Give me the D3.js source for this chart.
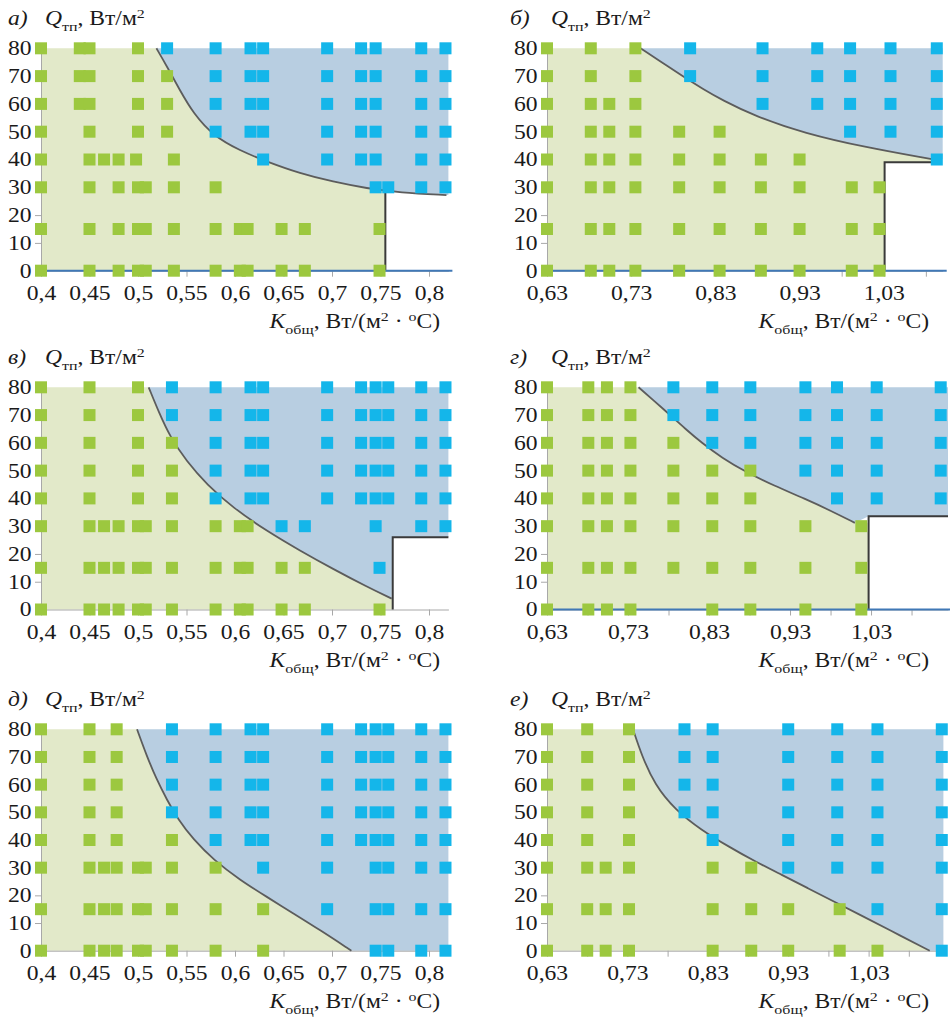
<!DOCTYPE html>
<html>
<head>
<meta charset="utf-8">
<script src="https://cdn.jsdelivr.net/npm/d3@7"></script>
<style>
  body { margin: 0; background: #fff; }
  svg text { font-family: "Liberation Serif", "Times New Roman", serif; fill: #1a1a1a; }
</style>
</head>
<body>
<svg id="chart" width="950" height="1019"></svg>
<script>
// ---- axis values ----
var qTicks = [0, 10, 20, 30, 40, 50, 60, 70, 80];
var kTicksLeft = [0.4, 0.45, 0.5, 0.55, 0.6, 0.65, 0.7, 0.75, 0.8];
var kLabelsLeft = ["0,4", "0,45", "0,5", "0,55", "0,6", "0,65", "0,7", "0,75", "0,8"];
var kTicksRight = [0.63, 0.68, 0.73, 0.78, 0.83, 0.88, 0.93, 0.98, 1.03, 1.08];
var kLabelsRight = ["0,63", "", "0,73", "", "0,83", "", "0,93", "", "1,03", ""];

var domainA = [0.4, 0.82], domainB = [0.63, 1.10], domainC = [0.4, 0.82];
var domainD = [0.63, 1.125], domainE = [0.4, 0.82], domainF = [0.63, 1.123];

// ---- а) ----  rows: [Q, [K...]]
var greenA = [
  [80, [0.40, 0.44, 0.45, 0.50]],
  [70, [0.40, 0.44, 0.45, 0.50, 0.53]],
  [60, [0.40, 0.44, 0.45, 0.50, 0.53]],
  [50, [0.40, 0.45, 0.50, 0.53]],
  [40, [0.40, 0.45, 0.465, 0.48, 0.498, 0.537]],
  [30, [0.40, 0.45, 0.48, 0.50, 0.508, 0.537, 0.58]],
  [15, [0.40, 0.45, 0.48, 0.50, 0.508, 0.537, 0.58, 0.605, 0.613, 0.648, 0.672, 0.749]],
  [0,  [0.40, 0.45, 0.48, 0.50, 0.508, 0.537, 0.58, 0.605, 0.613, 0.648, 0.672, 0.749]]
];
var blueA = [
  [80, [0.53, 0.58, 0.616, 0.629, 0.695, 0.73, 0.745, 0.792, 0.817]],
  [70, [0.58, 0.616, 0.629, 0.695, 0.73, 0.745, 0.792, 0.817]],
  [60, [0.58, 0.616, 0.629, 0.695, 0.73, 0.745, 0.792, 0.817]],
  [50, [0.58, 0.616, 0.629, 0.695, 0.73, 0.745, 0.792, 0.817]],
  [40, [0.629, 0.695, 0.73, 0.745, 0.792, 0.817]],
  [30, [0.745, 0.758, 0.792, 0.817]]
];
var curveA = [[0.519, 80], [0.530, 73.4], [0.543, 65], [0.557, 56.6], [0.578, 48.4], [0.605, 43.2],
  [0.633, 39.2], [0.667, 35], [0.701, 32], [0.736, 29.6], [0.77, 28.1], [0.818, 27.2]];
var stepA = [[0.755, 0], [0.755, 28.6]];
var greenEdgeA = [[0.755, 28.6], [0.755, 0]];
var blueEdgeA = [[0.82, 27.2]];

// ---- б) ----
var greenB = [
  [80, [0.63, 0.682, 0.735]],
  [70, [0.63, 0.682, 0.735]],
  [60, [0.63, 0.682, 0.704, 0.735]],
  [50, [0.63, 0.682, 0.704, 0.735, 0.787, 0.835]],
  [40, [0.63, 0.682, 0.704, 0.735, 0.787, 0.835, 0.884, 0.93]],
  [30, [0.63, 0.682, 0.704, 0.735, 0.787, 0.835, 0.884, 0.93, 0.992, 1.025]],
  [15, [0.63, 0.682, 0.704, 0.735, 0.787, 0.835, 0.884, 0.93, 0.992, 1.025]],
  [0,  [0.63, 0.682, 0.704, 0.735, 0.787, 0.835, 0.884, 0.93, 0.992, 1.025]]
];
var blueB = [
  [80, [0.80, 0.886, 0.951, 0.99, 1.038, 1.093]],
  [70, [0.80, 0.886, 0.951, 0.99, 1.038, 1.093]],
  [60, [0.886, 0.951, 0.99, 1.038, 1.093]],
  [50, [0.99, 1.038, 1.093]],
  [40, [1.093]]
];
var curveB = [[0.741, 80], [0.766, 75], [0.792, 69.8], [0.815, 65.4], [0.838, 61.4], [0.877, 55.6],
  [0.936, 49.4], [1.008, 44.4], [1.087, 40.1]];
var stepB = [[1.031, 0], [1.031, 39], [1.087, 39]];
var greenEdgeB = [[1.087, 39], [1.031, 39], [1.031, 0]];
var blueEdgeB = [[1.10, 40.1]];

// ---- в) ----
var greenC = [
  [80, [0.40, 0.45, 0.50]],
  [70, [0.40, 0.45, 0.50]],
  [60, [0.40, 0.45, 0.50, 0.535]],
  [50, [0.40, 0.45, 0.50, 0.535]],
  [40, [0.40, 0.45, 0.50, 0.535]],
  [30, [0.40, 0.45, 0.465, 0.48, 0.50, 0.508, 0.535, 0.58, 0.605, 0.613]],
  [15, [0.40, 0.45, 0.465, 0.48, 0.50, 0.508, 0.535, 0.58, 0.605, 0.613, 0.648, 0.672]],
  [0,  [0.40, 0.45, 0.465, 0.48, 0.50, 0.508, 0.535, 0.58, 0.605, 0.613, 0.648, 0.672, 0.749]]
];
var blueC = [
  [80, [0.535, 0.58, 0.616, 0.629, 0.695, 0.73, 0.745, 0.758, 0.792, 0.817]],
  [70, [0.535, 0.58, 0.616, 0.629, 0.695, 0.73, 0.745, 0.758, 0.792, 0.817]],
  [60, [0.58, 0.616, 0.629, 0.695, 0.73, 0.745, 0.758, 0.792, 0.817]],
  [50, [0.58, 0.616, 0.629, 0.695, 0.73, 0.745, 0.758, 0.792, 0.817]],
  [40, [0.58, 0.616, 0.629, 0.695, 0.73, 0.745, 0.758, 0.792, 0.817]],
  [30, [0.648, 0.672, 0.745, 0.792, 0.817]],
  [15, [0.749]]
];
var curveC = [[0.511, 80], [0.522, 70.6], [0.533, 62.2], [0.55, 53.4], [0.571, 45], [0.598, 36.6],
  [0.633, 28.2], [0.667, 21.2], [0.701, 14.6], [0.736, 8.2], [0.7615, 3.9]];
var stepC = [[0.7626, 0], [0.7626, 26], [0.82, 26]];
var greenEdgeC = [[0.7626, 3.9], [0.7626, 0]];
var blueEdgeC = [[0.7626, 26], [0.82, 26]];

// ---- г) ----
var greenD = [
  [80, [0.63, 0.681, 0.704, 0.733]],
  [70, [0.63, 0.681, 0.704, 0.733]],
  [60, [0.63, 0.681, 0.704, 0.733, 0.786]],
  [50, [0.63, 0.681, 0.704, 0.733, 0.786, 0.834, 0.881]],
  [40, [0.63, 0.681, 0.704, 0.733, 0.786, 0.834, 0.881]],
  [30, [0.63, 0.681, 0.704, 0.733, 0.786, 0.834, 0.881, 0.949, 1.018]],
  [15, [0.63, 0.681, 0.704, 0.733, 0.786, 0.834, 0.881, 0.949, 1.018]],
  [0,  [0.63, 0.681, 0.704, 0.733, 0.834, 0.881, 0.949, 1.018]]
];
var blueD = [
  [80, [0.786, 0.834, 0.881, 0.949, 0.988, 1.037, 1.116]],
  [70, [0.786, 0.834, 0.881, 0.949, 0.988, 1.037, 1.116]],
  [60, [0.834, 0.881, 0.949, 0.988, 1.037, 1.116]],
  [50, [0.949, 0.988, 1.037, 1.116]],
  [40, [0.988, 1.037, 1.116]]
];
var curveD = [[0.743, 80], [0.762, 75.2], [0.782, 70], [0.801, 65], [0.821, 60], [0.846, 54.6],
  [0.875, 49.6], [0.91, 44.6], [0.949, 39.8], [0.98, 35.6], [1.01, 31.2]];
var stepD = [[1.027, 0], [1.027, 33.6], [1.125, 33.6]];
var greenEdgeD = [[1.027, 31.2], [1.027, 0]];
var blueEdgeD = [[1.027, 33.6], [1.125, 33.6]];

// ---- д) ----
var greenE = [
  [80, [0.40, 0.45, 0.478]],
  [70, [0.40, 0.45, 0.478]],
  [60, [0.40, 0.45, 0.478]],
  [50, [0.40, 0.45, 0.478]],
  [40, [0.40, 0.45, 0.478, 0.535]],
  [30, [0.40, 0.45, 0.465, 0.478, 0.50, 0.508, 0.535, 0.58]],
  [15, [0.40, 0.45, 0.465, 0.478, 0.50, 0.508, 0.535, 0.58, 0.629]],
  [0,  [0.40, 0.45, 0.465, 0.478, 0.50, 0.508, 0.535, 0.58, 0.629]]
];
var blueE = [
  [80, [0.535, 0.58, 0.616, 0.629, 0.695, 0.73, 0.745, 0.758, 0.792, 0.817]],
  [70, [0.535, 0.58, 0.616, 0.629, 0.695, 0.73, 0.745, 0.758, 0.792, 0.817]],
  [60, [0.535, 0.58, 0.616, 0.629, 0.695, 0.73, 0.745, 0.758, 0.792, 0.817]],
  [50, [0.535, 0.58, 0.616, 0.629, 0.695, 0.73, 0.745, 0.758, 0.792, 0.817]],
  [40, [0.58, 0.616, 0.629, 0.695, 0.73, 0.745, 0.758, 0.792, 0.817]],
  [30, [0.629, 0.695, 0.745, 0.758, 0.792, 0.817]],
  [15, [0.695, 0.745, 0.758, 0.792, 0.817]],
  [0,  [0.745, 0.758, 0.792, 0.817]]
];
var curveE = [[0.499, 80], [0.509, 70.4], [0.519, 62], [0.53, 54.4], [0.541, 47.6], [0.557, 40.2],
  [0.578, 32.8], [0.605, 25.6], [0.633, 19.4], [0.66, 13.5], [0.688, 7.4], [0.72, 0]];
var greenEdgeE = [];
var blueEdgeE = [[0.82, 0]];

// ---- е) ----
var greenF = [
  [80, [0.63, 0.68, 0.732]],
  [70, [0.63, 0.68, 0.732]],
  [60, [0.63, 0.68, 0.732]],
  [50, [0.63, 0.68, 0.732]],
  [40, [0.63, 0.68, 0.732]],
  [30, [0.63, 0.68, 0.703, 0.732, 0.836, 0.884]],
  [15, [0.63, 0.68, 0.703, 0.732, 0.836, 0.884, 0.93, 0.994]],
  [0,  [0.63, 0.68, 0.703, 0.732, 0.836, 0.884, 0.93, 0.994, 1.041]]
];
var blueF = [
  [80, [0.801, 0.836, 0.93, 0.991, 1.041, 1.121]],
  [70, [0.801, 0.836, 0.93, 0.991, 1.041, 1.121]],
  [60, [0.801, 0.836, 0.93, 0.991, 1.041, 1.121]],
  [50, [0.801, 0.836, 0.93, 0.991, 1.041, 1.121]],
  [40, [0.836, 0.93, 0.991, 1.041, 1.121]],
  [30, [0.93, 0.991, 1.041, 1.121]],
  [15, [1.041, 1.121]],
  [0,  [1.121]]
];
var curveF = [[0.737, 80], [0.748, 70.4], [0.764, 60], [0.789, 51], [0.822, 43.6], [0.856, 37.6],
  [0.889, 32.2], [0.922, 27.4], [0.955, 22.5], [0.988, 17.6], [1.021, 12.7], [1.055, 7.6], [1.106, 0]];
var greenEdgeF = [];
var blueEdgeF = [[1.123, 0]];

// ---- layout ----
var panels = [
  {tag: "а)", left: true,  x0: 41,  x1: 448.4, yTop: 48.3,  yBot: 270.7, domain: domainA,
   green: greenA, blue: blueA, curve: curveA, step: stepA, gEdge: greenEdgeA, bEdge: blueEdgeA, zero: true},
  {tag: "б)", left: false, x0: 547, x1: 942.7, yTop: 48.3,  yBot: 270.7, domain: domainB,
   green: greenB, blue: blueB, curve: curveB, step: stepB, gEdge: greenEdgeB, bEdge: blueEdgeB, zero: true},
  {tag: "в)", left: true,  x0: 41,  x1: 448.4, yTop: 387.3, yBot: 609.5, domain: domainC,
   green: greenC, blue: blueC, curve: curveC, step: stepC, gEdge: greenEdgeC, bEdge: blueEdgeC, zero: false},
  {tag: "г)", left: false, x0: 547, x1: 948,   yTop: 387.3, yBot: 609.5, domain: domainD,
   green: greenD, blue: blueD, curve: curveD, step: stepD, gEdge: greenEdgeD, bEdge: blueEdgeD, zero: true},
  {tag: "д)", left: true,  x0: 41,  x1: 448.4, yTop: 729.3, yBot: 950.7, domain: domainE,
   green: greenE, blue: blueE, curve: curveE, step: null, gEdge: greenEdgeE, bEdge: blueEdgeE, zero: false},
  {tag: "е)", left: false, x0: 547, x1: 943.4, yTop: 729.3, yBot: 950.7, domain: domainF,
   green: greenF, blue: blueF, curve: curveF, step: null, gEdge: greenEdgeF, bEdge: blueEdgeF, zero: false}
];

var col = {
  greenFill: "#e2e9c9", blueFill: "#b8cee1",
  greenMark: "#9cc83f", blueMark: "#14b6ea",
  curve: "#5c5c5c", step: "#3a3a3a", zero: "#4078b6", axis: "#a8a8a8"
};
var FS = 20, SUB = 13.5, SX = 1.18, M = 12;

var svg = d3.select("#chart");

function flat(rows) {
  var out = [];
  rows.forEach(function(r) { r[1].forEach(function(k) { out.push({k: k, q: r[0]}); }); });
  return out;
}

panels.forEach(function(p) {
  var x = d3.scaleLinear().domain(p.domain).range([p.x0, p.x1]);
  var y = d3.scaleLinear().domain([0, 80]).range([p.yBot, p.yTop]);
  var g = svg.append("g");
  var kMin = p.domain[0], kMax = p.domain[1];

  var smooth = d3.line().x(function(d) { return x(d[0]); }).y(function(d) { return y(d[1]); })
    .curve(d3.curveBasis);
  var straight = d3.line().x(function(d) { return x(d[0]); }).y(function(d) { return y(d[1]); });
  var cPath = smooth(p.curve);
  function tail(pts) {
    return pts.map(function(d) { return "L" + x(d[0]) + "," + y(d[1]); }).join("");
  }

  // green (safe) area
  g.append("path")
    .attr("d", "M" + x(kMin) + "," + y(0) + "L" + x(kMin) + "," + y(80) +
      cPath.replace(/^M/, "L") + tail(p.gEdge) + "Z")
    .attr("fill", col.greenFill);

  // blue area
  g.append("path")
    .attr("d", cPath + tail(p.bEdge) + tail([[kMax, 80]]) + "Z")
    .attr("fill", col.blueFill);

  // axes
  var xTicks = p.left ? kTicksLeft : kTicksRight;
  var xLabels = p.left ? kLabelsLeft : kLabelsRight;
  var xAxis = g.append("g").attr("transform", "translate(0," + p.yBot + ")")
    .call(d3.axisBottom(x).tickValues(xTicks.filter(function(v) { return v <= kMax; }))
      .tickFormat(function(d, i) { return xLabels[i]; })
      .tickSizeInner(6).tickSizeOuter(0).tickPadding(9));
  var yAxis = g.append("g").attr("transform", "translate(" + p.x0 + ",0)")
    .call(d3.axisLeft(y).tickValues(qTicks).tickSizeInner(6).tickSizeOuter(0).tickPadding(2));
  [xAxis, yAxis].forEach(function(a) {
    a.attr("font-family", null).attr("font-size", FS);
    a.select(".domain").attr("stroke", col.axis);
    a.selectAll(".tick line").attr("stroke", col.axis);
    a.selectAll(".tick text").attr("fill", "#1a1a1a").attr("transform", "scale(" + SX + ",1)");
  });

  // boundary curve
  g.append("path").attr("d", cPath).attr("fill", "none")
    .attr("stroke", col.curve).attr("stroke-width", 1.8);

  // step line
  if (p.step) {
    g.append("path").attr("d", straight(p.step)).attr("fill", "none")
      .attr("stroke", col.step).attr("stroke-width", 2);
  }

  // zero line
  if (p.zero) {
    g.append("line").attr("x1", x(kMin)).attr("x2", x(kMax) + 4)
      .attr("y1", y(0)).attr("y2", y(0))
      .attr("stroke", col.zero).attr("stroke-width", 2);
  }

  // markers
  [[p.green, col.greenMark], [p.blue, col.blueMark]].forEach(function(s) {
    g.selectAll(null).data(flat(s[0])).enter().append("rect")
      .attr("x", function(d) { return x(d.k) - M / 2; })
      .attr("y", function(d) { return y(d.q) - M / 2; })
      .attr("width", M).attr("height", M)
      .attr("fill", s[1]);
  });

  // top label
  var tx = p.left ? 8 : 510, qx = p.left ? 45 : 551, ty = p.yTop - 23;
  g.append("g").attr("transform", "translate(" + tx + "," + ty + ") scale(" + SX + ",1)")
    .append("text").attr("font-size", FS).attr("font-style", "italic").text(p.tag);
  var t1 = g.append("g").attr("transform", "translate(" + qx + "," + ty + ") scale(" + SX + ",1)")
    .append("text").attr("font-size", FS);
  t1.append("tspan").attr("font-style", "italic").text("Q");
  t1.append("tspan").attr("font-size", SUB).attr("dy", 6).text("тп");
  t1.append("tspan").attr("dy", -6).text(", Вт/м");
  t1.append("tspan").attr("font-size", SUB).attr("dy", -7).text("2");

  // x axis title
  var ex = p.left ? 440 : 929, ey = p.yBot + 57.5;
  var t2 = g.append("g").attr("transform", "translate(" + ex + "," + ey + ") scale(" + SX + ",1)")
    .append("text").attr("font-size", FS).attr("text-anchor", "end");
  t2.append("tspan").attr("font-style", "italic").text("K");
  t2.append("tspan").attr("font-size", SUB).attr("dy", 6).text("общ");
  t2.append("tspan").attr("dy", -6).text(", Вт/(м");
  t2.append("tspan").attr("font-size", SUB).attr("dy", -7).text("2");
  t2.append("tspan").attr("dy", 7).text(" · ");
  t2.append("tspan").attr("font-size", SUB).attr("dy", -7).text("o");
  t2.append("tspan").attr("dy", 7).text("C)");
});
</script>
</body>
</html>
